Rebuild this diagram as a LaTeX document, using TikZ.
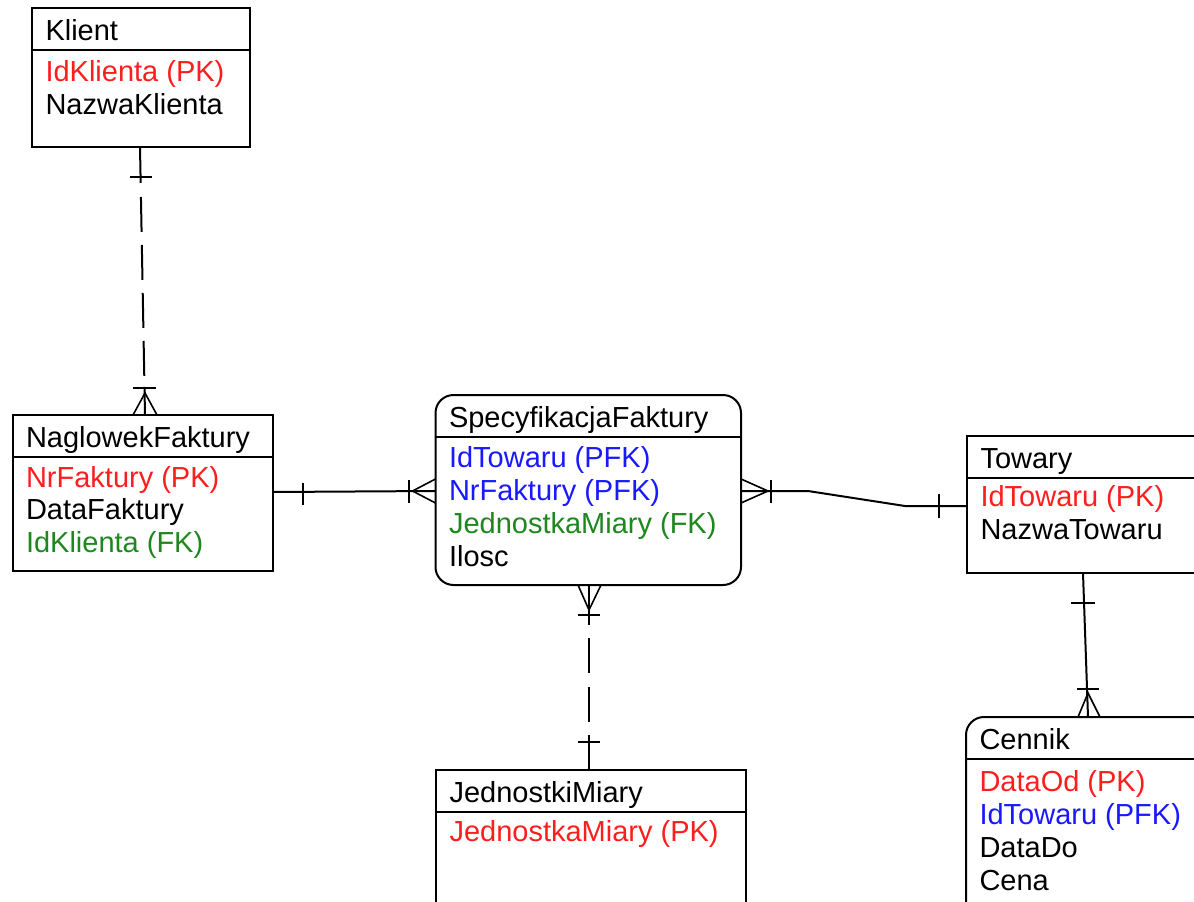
\documentclass[tikz,border=0pt]{standalone}
\usepackage{fontspec}
\setmainfont{Liberation Sans}
\usetikzlibrary{calc}
\definecolor{pkred}{RGB}{255,30,30}
\definecolor{fkblue}{RGB}{25,25,255}
\definecolor{fkgreen}{RGB}{30,135,30}
\newcommand\ERbox[7]{%
  \node[#2, minimum width=#5pt, minimum height=#6pt] (#1) at (#3,#4) {};
  \draw[boxline] ($(#1.north west)+(0,42)$) -- ($(#1.north east)+(0,42)$);
  \node[txt] (#1-t) at ($(#1.north west)+(13.5,32.5)$) {#7};}
\begin{document}
\begin{tikzpicture}[x=1pt,y=-1pt,
  ent/.style={draw=black, line width=2pt, fill=white, anchor=north west, inner sep=0pt, outer sep=0pt},
  rent/.style={ent, rounded corners=18pt},
  boxline/.style={line width=2pt},
  txt/.style={anchor=base west, inner sep=0pt, outer sep=0pt, font=\fontsize{29}{33}\selectfont},
  pk/.style={txt, text=pkred},
  pfk/.style={txt, text=fkblue},
  fk/.style={txt, text=fkgreen},
  rel/.style={line width=2pt},
  crow/.style={line width=1.6pt},
]
\useasboundingbox (0,0) rectangle (1194,902);
\clip (0,0) rectangle (1194,902);
\fill[white] (0,0) rectangle (1194,902);

% entities
\ERbox{klient}{ent}{32}{8}{218}{139}{Klient}
\node[pk] (klient-a1) at ($(klient.north west)+(13.5,73)$) {IdKlienta (PK)};
\node[txt] (klient-a2) at ($(klient.north west)+(13.5,106)$) {NazwaKlienta};

\ERbox{nagl}{ent}{12.5}{415}{260.5}{156}{NaglowekFaktury}
\node[pk] (nagl-a1) at ($(nagl.north west)+(13.5,72)$) {NrFaktury (PK)};
\node[txt] (nagl-a2) at ($(nagl.north west)+(13.5,104)$) {DataFaktury};
\node[fk] (nagl-a3) at ($(nagl.north west)+(13.5,137)$) {IdKlienta (FK)};

\ERbox{spec}{rent}{435.5}{395}{305.5}{190}{SpecyfikacjaFaktury}
\node[pfk] (spec-a1) at ($(spec.north west)+(13.5,72)$) {IdTowaru (PFK)};
\node[pfk] (spec-a2) at ($(spec.north west)+(13.5,105)$) {NrFaktury (PFK)};
\node[fk] (spec-a3) at ($(spec.north west)+(13.5,138)$) {JednostkaMiary (FK)};
\node[txt] (spec-a4) at ($(spec.north west)+(13.5,171)$) {Ilosc};

\ERbox{tow}{ent}{967}{435.5}{253}{137.5}{Towary}
\node[pk] (tow-a1) at ($(tow.north west)+(13.5,71)$) {IdTowaru (PK)};
\node[txt] (tow-a2) at ($(tow.north west)+(13.5,104)$) {NazwaTowaru};

\ERbox{cen}{rent}{966}{717}{254}{210}{Cennik}
\node[pk] (cen-a1) at ($(cen.north west)+(13.5,74.5)$) {DataOd (PK)};
\node[pfk] (cen-a2) at ($(cen.north west)+(13.5,107.5)$) {IdTowaru (PFK)};
\node[txt] (cen-a3) at ($(cen.north west)+(13.5,140.5)$) {DataDo};
\node[txt] (cen-a4) at ($(cen.north west)+(13.5,173)$) {Cena};

\ERbox{jm}{ent}{436}{770}{310}{150}{JednostkiMiary}
\node[pk] (jm-a1) at ($(jm.north west)+(13.5,71)$) {JednostkaMiary (PK)};

% relationship 1: Klient -- NaglowekFaktury
\coordinate (r1a) at ($(klient.south west)+(108,0)$);
\coordinate (r1b) at ($(nagl.north west)+(132.5,0)$);
\draw[rel, dash pattern=on 36pt off 14pt on 35pt off 13pt on 35pt off 13pt on 35pt off 13pt on 35pt off 11pt on 40pt] (r1a) -- (r1b);
\draw[rel] ($(r1a)+(-10,30)$) -- ++(22,0);
\draw[rel] ($(r1b)+(-12,-27)$) -- ++(23,0);
\draw[crow] ($(r1b)+(-12,0)$) -- ($(r1b)+(0,-22)$) -- ($(r1b)+(12,0)$);

% relationship 2: NaglowekFaktury -- SpecyfikacjaFaktury
\coordinate (r2a) at ($(nagl.north east)+(0,77)$);
\coordinate (r2b) at ($(spec.north west)+(0,96)$);
\draw[rel] (r2a) -- (r2b);
\draw[rel] ($(r2a)+(30,-9)$) -- ++(0,22);
\draw[rel] ($(r2b)+(-27,-11)$) -- ++(0,23);
\draw[crow] ($(r2b)+(0,-12)$) -- ($(r2b)+(-23,0)$) -- ($(r2b)+(0,12)$);

% relationship 3: SpecyfikacjaFaktury -- Towary
\coordinate (r3a) at ($(spec.north east)+(0,96)$);
\coordinate (r3b) at ($(tow.north west)+(0,70.5)$);
\draw[rel] (r3a) -- ++(67,0) -- ($(r3b)+(-62,0)$) -- (r3b);
\draw[rel] ($(r3a)+(30,-11)$) -- ++(0,23);
\draw[crow] ($(r3a)+(0,-12)$) -- ($(r3a)+(27,0)$) -- ($(r3a)+(0,12)$);
\draw[rel] ($(r3b)+(-28,-12)$) -- ++(0,24);

% relationship 4: SpecyfikacjaFaktury -- JednostkiMiary
\coordinate (r4a) at ($(spec.south west)+(153.5,0)$);
\coordinate (r4b) at ($(jm.north west)+(153,0)$);
\draw[rel, dash pattern=on 40pt off 13pt on 35pt off 14pt on 35pt off 13pt on 45pt] (r4a) -- (r4b);
\draw[rel] ($(r4a)+(-11,30)$) -- ++(22,0);
\draw[crow] ($(r4a)+(-11,0)$) -- ($(r4a)+(0,25)$) -- ($(r4a)+(12,0)$);
\draw[rel] ($(r4b)+(-11,-28)$) -- ++(22,0);

% relationship 5: Towary -- Cennik
\coordinate (r5a) at ($(tow.south west)+(116,0)$);
\coordinate (r5b) at ($(cen.north west)+(122,0)$);
\draw[rel] (r5a) -- (r5b);
\draw[rel] ($(r5a)+(-12,30)$) -- ++(24,0);
\draw[rel] ($(r5b)+(-11,-28)$) -- ++(22,0);
\draw[crow] ($(r5b)+(-10,0)$) -- ($(r5b)+(0,-24)$) -- ($(r5b)+(12,0)$);
\end{tikzpicture}
\end{document}
